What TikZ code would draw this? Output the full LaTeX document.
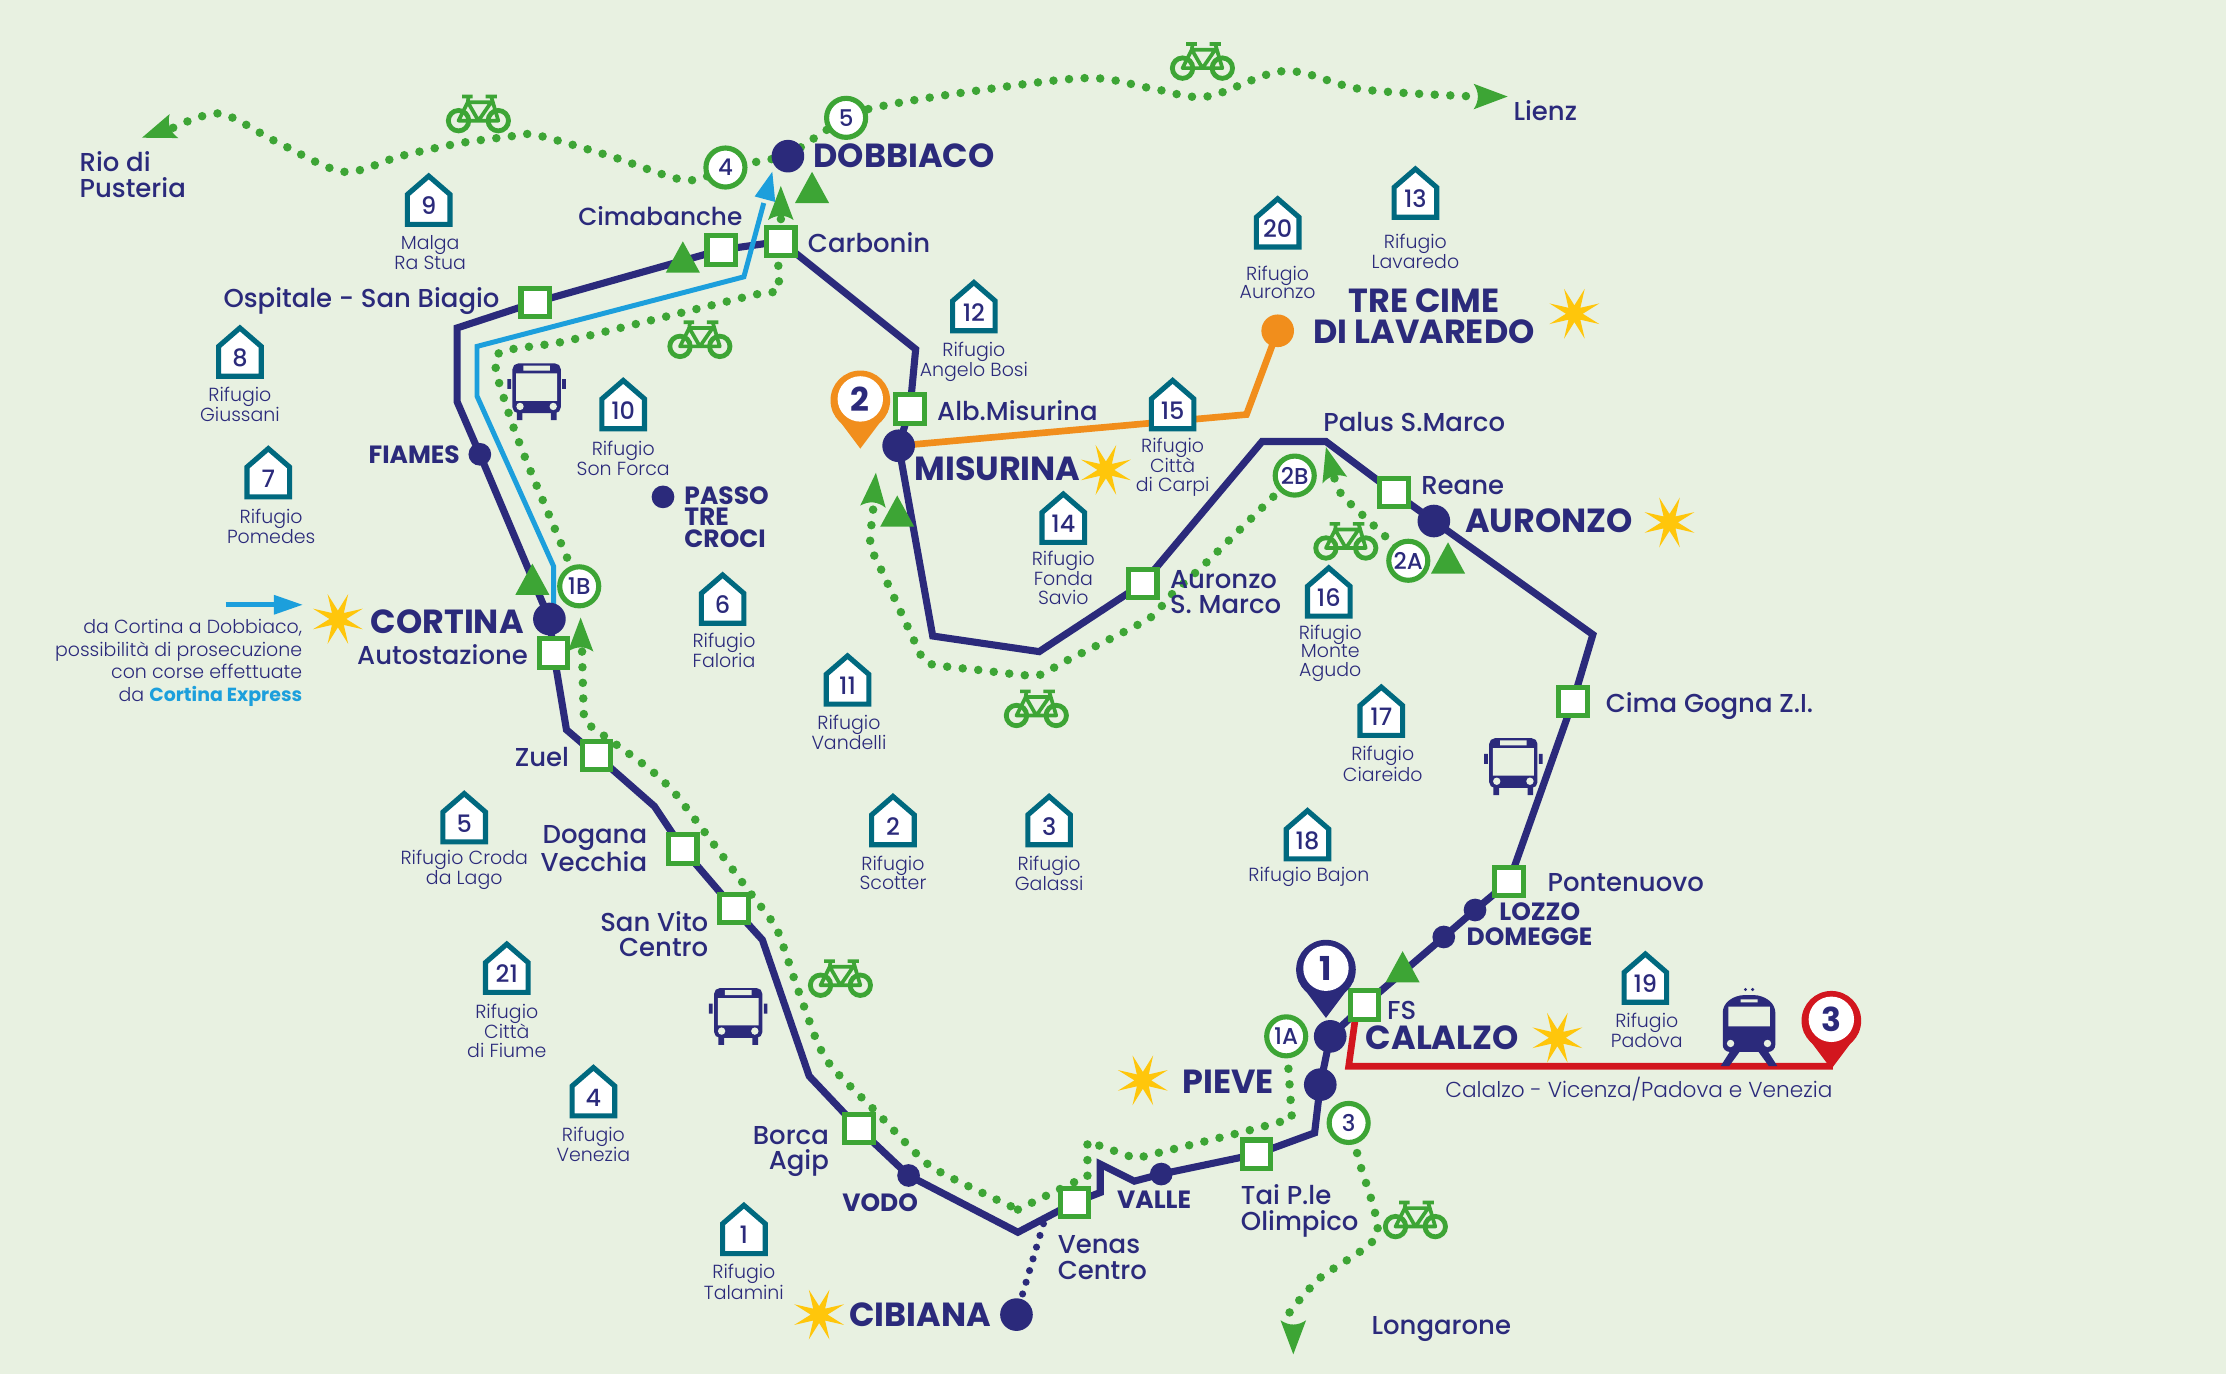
\documentclass[tikz,border=0pt]{standalone}
\usepackage{fontspec}
\setmainfont{Poppins}
\newfontfamily\medf{Poppins Medium}
\newfontfamily\lightf{Poppins Light}
\usetikzlibrary{shapes.geometric}
\definecolor{bgc}{HTML}{E8F1E1}
\definecolor{navyc}{HTML}{2B2A7B}
\definecolor{greenc}{HTML}{3DA535}
\definecolor{tealc}{HTML}{00697F}
\definecolor{bluec}{HTML}{1C9FDC}
\definecolor{orangec}{HTML}{F18E1C}
\definecolor{redc}{HTML}{D2161E}
\definecolor{yelc}{HTML}{FFC60B}
\pgfdeclarelayer{routes}
\pgfsetlayers{routes,main}
\tikzset{
 x=0.05cm,y=-0.05cm,
 navyline/.style={draw=navyc,line width=0.25cm,line join=miter},
 blueline/.style={draw=bluec,line width=0.175cm,line join=miter},
 orangeline/.style={draw=orangec,line width=0.235cm},
 redline/.style={draw=redc,line width=0.235cm},
 gdots/.style={draw=greenc,line width=0.3cm,line cap=round,dash pattern=on 0pt off 0.55cm},
 ndots/.style={draw=navyc,line width=0.25cm,line cap=round,dash pattern=on 0pt off 0.43cm},
 stop/.style={rectangle,draw=greenc,fill=white,line width=0.18cm,minimum size=1cm,inner sep=0},
 bigdot/.style={circle,fill=navyc,minimum size=1.15cm,inner sep=0},
 smalldot/.style={circle,fill=navyc,minimum size=0.8cm,inner sep=0},
 orangedot/.style={circle,fill=orangec,minimum size=1.15cm,inner sep=0},
 ring/.style={circle,draw=greenc,fill=white,line width=0.18cm,minimum size=1.375cm,inner sep=0,text=navyc,font=\medf\fontsize{23}{24}\selectfont},
 sunstar/.style={star,star points=8,star point ratio=3.2,shape border rotate=22.5,fill=yelc,minimum size=1.9cm,inner sep=0},
 lab/.style={text=navyc,inner sep=0,font=\medf\fontsize{26}{25.6}\selectfont},
 blab/.style={text=navyc,inner sep=0,font=\fontsize{33.5}{31}\selectfont\bfseries},
 slab/.style={text=navyc,inner sep=0,font=\fontsize{25}{21.5}\selectfont\bfseries},
 tlab/.style={text=navyc,inner sep=0,font=\lightf\fontsize{19}{18.5}\selectfont,align=center},
 notelab/.style={text=navyc,inner sep=0,font=\lightf\fontsize{19}{22.7}\selectfont,align=right},
 hutnum/.style={text=navyc,inner sep=0,font=\medf\fontsize{24}{24}\selectfont},
 hutline/.style={draw=tealc,fill=white,line width=0.18cm,line join=miter},
 pinnum/.style={text=navyc,inner sep=0,font=\fontsize{33}{33}\selectfont\bfseries},
 pinwhite/.style={circle,fill=white,minimum size=1.6cm,inner sep=0},
 bikeline/.style={draw=greenc,line width=0.13cm},
 wheelline/.style={draw=greenc,line width=0.17cm},
}
\newcommand\mkhut[6]{% num, x, top y, lab x, lab y, text
 \begin{scope}[shift={(#2,#3)}]
  \draw[hutline] (0,2)--(15,15)--(15,36)--(-15,36)--(-15,15)--cycle;
  \node[hutnum] (hut#1) at (0,23) {#1};
 \end{scope}
 \node[tlab] (hutlab#1) at (#4,#5) {#6};
}
\newcommand\mkbike[3]{%
 \begin{scope}[shift={(#2,#3)}]
  \coordinate (#1) at (0,0);
  \draw[wheelline] (-14,5) circle[radius=0.36cm] (14,5) circle[radius=0.36cm];
  \draw[bikeline,line join=round] (-14,5)--(-7.5,-8)--(9,-8)--(0,5)--cycle (-7.5,-8)--(0,5)--(14,5)--(9,-12);
  \draw[bikeline] (-11.5,-12)--(-4,-12) (-7,-12)--(-7.5,-8) (5,-12)--(13,-12);
 \end{scope}
}
\newcommand\mkbus[3]{%
 \begin{scope}[shift={(#2,#3)}]
  \coordinate (#1) at (0,0);
  \fill[navyc,rounded corners=0.2cm] (-17,15) -- (-17,-20) -- (17,-20) -- (17,15) -- cycle;
  \fill[navyc] (-14,14) rectangle (-10,20) (10,14) rectangle (14,20) (-20.6,-9) rectangle (-18,-2) (18,-9) rectangle (20.6,-2);
  \fill[bgc] (-14.4,-13) rectangle (14.4,6.3) (-9.4,-18.5) rectangle (9.4,-15);
  \fill[bgc] (-11.7,10.3) circle[radius=0.13cm] (11.7,10.3) circle[radius=0.13cm];
 \end{scope}
}
\newcommand\mktrain[3]{%
 \begin{scope}[shift={(#2,#3)}]
  \coordinate (#1) at (0,0);
  \fill[navyc,rounded corners=0.25cm] (-18.5,-17) -- (-18.5,16) -- (18.5,16) -- (18.5,-17) -- (9,-24) -- (-9,-24) -- cycle;
  \fill[navyc] (-13,15) -- (-6,15) -- (-14,26) -- (-20,26) -- cycle (13,15) -- (6,15) -- (14,26) -- (20,26) -- cycle;
  \fill[bgc] (-14.6,-16) rectangle (14.6,-2) (-6,-21) rectangle (6,-19);
  \fill[bgc] (-13,10) circle[radius=0.13cm] (13,10) circle[radius=0.13cm];
  \fill[navyc] (-2.5,-28) circle[radius=0.06cm] (2.5,-28) circle[radius=0.06cm];
 \end{scope}
}
\newcommand\mkpin[5]{% name,col,x,y,text
 \begin{scope}[shift={(#3,#4)}]
  \fill[#2] (-19.5,8) -- (0,34) -- (19.5,8) -- cycle;
  \node[circle,fill=#2,minimum size=2.1cm,inner sep=0] (#1) at (0,0) {};
  \node[pinwhite] (#1w) at (0,-1) {};
  \node[pinnum] (#1n) at (0,-1) {#5};
 \end{scope}
}
\newcommand\ghead[3]{% tip x,y, rotation
 \begin{scope}[shift={(#1,#2)},rotate=#3]
  \fill[greenc] (0,0) -- (-24,-9) .. controls (-20,-3) and (-20,3) .. (-24,9) -- cycle;
 \end{scope}
}
\newcommand\gtri[2]{% centre x, tip y
 \fill[greenc] (#1,#2) -- ++(12,22) -- ++(-24,0) -- cycle;
}
\begin{document}
\begin{tikzpicture}
\useasboundingbox (0,0) rectangle (1568,967.8);

% stops
\node[stop] (ospitale) at (377,213) {};
\node[stop] (cimabanche) at (508,176) {};
\node[stop] (carbonin) at (550,170) {};
\node[stop] (albmis) at (641,288) {};
\node[stop] (reane) at (982,347) {};
\node[stop] (auronzosm) at (805,411) {};
\node[stop] (autostaz) at (390,460) {};
\node[stop] (zuel) at (420,532) {};
\node[stop] (dogana) at (481,598) {};
\node[stop] (sanvito) at (517,640) {};
\node[stop] (borca) at (605,795) {};
\node[stop] (venas) at (757,847) {};
\node[stop] (tai) at (885,813) {};
\node[stop] (fs) at (961,708) {};
\node[stop] (ponte) at (1063,621) {};
\node[stop] (gogna) at (1108,494) {};
% dots
\node[bigdot] (dobbiaco) at (555,110) {};
\node[bigdot] (misurina) at (633,314) {};
\node[bigdot] (auronzo) at (1010,367) {};
\node[bigdot] (cortina) at (387,436) {};
\node[bigdot] (calalzo) at (937,730) {};
\node[bigdot] (pieve) at (930,764) {};
\node[bigdot] (cibiana) at (716,926) {};
\node[smalldot] (fiames) at (338,320) {};
\node[smalldot] (vodo) at (640,828) {};
\node[smalldot] (valle) at (818,827) {};
\node[smalldot] (domegge) at (1017,660) {};
\node[smalldot] (lozzo) at (1039,641) {};
\node[smalldot] (passo) at (467,350) {};
\node[orangedot] (trecime) at (900,233) {};
% rings
\node[ring] (r4) at (511,118) {4};
\node[ring] (r5) at (596,83) {5};
\node[ring] (r1B) at (408,413) {1B};
\node[ring] (r1A) at (906,730) {1A};
\node[ring] (r3) at (950,791) {3};
\node[ring] (r2B) at (912,335) {2B};
\node[ring] (r2A) at (992,395) {2A};
\coordinate (venasfoot) at (735,862);

\begin{pgfonlayer}{routes}
\fill[bgc] (0,0) rectangle (1568,967.8);
\draw[navyline] (carbonin.center) -- (cimabanche.center) -- (ospitale.center) -- (322,231) -- (322,283) -- (fiames.center) -- (cortina.center) -- (autostaz.center) -- (399,514) -- (zuel.center) -- (461,568) -- (dogana.center) -- (sanvito.center) -- (537,662) -- (570,758) -- (borca.center) -- (vodo.center) -- (717,868) -- (venas.center) -- (775,840) -- (775,820) -- (799,832) -- (valle.center) -- (tai.center) -- (926,798) -- (pieve.center) -- (calalzo.center) -- (fs.center) -- (domegge.center) -- (lozzo.center) -- (ponte.center) -- (gogna.center) -- (1122,447) -- (auronzo.center) -- (reane.center) -- (934,311) -- (889,311) -- (auronzosm.center) -- (732,459) -- (657,448) -- (misurina.center) -- (albmis.center) -- (645,246) -- (carbonin.center);
\draw[orangeline] (misurina.center) -- (878,292) -- (trecime.center);
\draw[redline] (955,715) -- (950,751) -- (1291,751);
\draw[ndots] (venasfoot) -- (cibiana.center);
\draw[blueline] (cortina.center) ++(3,-6) -- (390,399) -- (336,279) -- (336,244) -- (524,195) -- (538,143);
\draw[blueline] (159,426) -- (195,426);
% cycling routes
\draw[gdots] plot[smooth,tension=.5] coordinates {(122,90) (155,80) (195,100) (242,121) (282,110) (323,101) (357,96.5) (377,95) (430,110) (483,127) (r4.center)};
\draw[gdots] (r4.center) -- (dobbiaco.center);
\draw[gdots] plot[smooth,tension=.55] coordinates {(dobbiaco.center) (r5.center) (620,75) (680,65) (765,55) (810,62) (850,68) (905,50) (960,63) (1040,68)};
\draw[gdots] plot[smooth,tension=.4] coordinates {(r1B.center) (373,330) (358,290) (350,250) (400,240) (530,208) (548,205) (548,190) (carbonin.center) (550,150)};
\draw[gdots] plot[smooth,tension=.3] coordinates {(410,459) (411,497) (412,508) (421,515) (439,528) (458,542) (474,557) (494,583) (527,627) (547,654) (561,694) (576,735) (587,753) (618,784) (656,822) (717,852)};
\draw[gdots] plot coordinates {(717,852) (756,833) (766,829) (766,804) (800,816) (877,797) (910,788) (r1A.center)};
\draw[gdots] plot[smooth,tension=.3] coordinates {(615,359) (613,384) (622,404) (642,447) (653,467) (690,472) (730,476) (750,466) (809,436) (825,419) (850,396) (r2B.center)};
\draw[gdots] plot coordinates {(940,337) (945,349) (976,378) (r2A.center)};
\draw[gdots] plot[smooth,tension=.4] coordinates {(r3.center) (958,820) (970,870) (930,900) (908,925) (910,932)};
\end{pgfonlayer}

% arrow heads
\ghead{100}{97}{200}
\ghead{1062}{68}{0}
\ghead{550}{131}{90}
\ghead{409}{435}{90}
\ghead{617}{333}{85}
\ghead{934}{315}{105}
\ghead{911}{954}{-90}
\begin{scope}[shift={(544,121)},rotate=75]
 \fill[bluec] (0,0) -- (-20,-7.5) -- (-20,7.5) -- cycle;
\end{scope}
\fill[bluec] (213,426) -- (193,419) -- (193,433) -- cycle;
% triangles
\gtri{481}{170}
\gtri{572}{121}
\gtri{375}{397}
\gtri{632}{349}
\gtri{1020}{382}
\gtri{988}{670}

% icons
\mkbike{bikea}{337}{80}
\mkbike{bikeb}{847}{43}
\mkbike{bikec}{493}{239}
\mkbike{biked}{948}{381}
\mkbike{bikee}{730}{499}
\mkbike{bikef}{592}{689}
\mkbike{bikeg}{997}{859}
\mkbus{busa}{378}{276}
\mkbus{busb}{1066}{540}
\mkbus{busc}{520}{716}
\mktrain{traina}{1232}{725}

% stars
\node[sunstar] (s1) at (238,436) {};
\node[sunstar] (s2) at (779,331) {};
\node[sunstar] (s3) at (1109,221) {};
\node[sunstar] (s4) at (1176,368) {};
\node[sunstar] (s5) at (805,761) {};
\node[sunstar] (s6) at (1097,731) {};
\node[sunstar] (s7) at (577,926) {};

% pins
\mkpin{pina}{navyc}{934}{683}{1}
\mkpin{pinb}{orangec}{606}{282}{2}
\mkpin{pinc}{redc}{1290}{719}{3}

% huts
\mkhut{9}{302}{122}{303}{178}{Malga\\Ra Stua}
\mkhut{8}{169}{229}{169}{285}{Rifugio\\Giussani}
\mkhut{7}{189}{314}{191}{371}{Rifugio\\Pomedes}
\mkhut{10}{439}{266}{439}{323}{Rifugio\\Son Forca}
\mkhut{6}{509}{403}{510}{458}{Rifugio\\Faloria}
\mkhut{11}{597}{460}{598}{516}{Rifugio\\Vandelli}
\mkhut{5}{327}{557}{327}{613}{Rifugio Croda\\da Lago}
\mkhut{2}{629}{559}{629}{615}{Rifugio\\Scotter}
\mkhut{3}{739}{559}{739}{615}{Rifugio\\Galassi}
\mkhut{21}{357}{663}{357}{726}{Rifugio\\Città\\di Fiume}
\mkhut{4}{418}{750}{418}{806}{Rifugio\\Venezia}
\mkhut{1}{524}{847}{524}{903}{Rifugio\\Talamini}
\mkhut{12}{686}{197}{686}{255}{Rifugio\\Angelo Bosi}
\mkhut{20}{900}{138}{900}{199}{Rifugio\\Auronzo}
\mkhut{13}{997}{117}{997}{177}{Rifugio\\Lavaredo}
\mkhut{15}{826}{266}{826}{329}{Rifugio\\Città\\di Carpi}
\mkhut{14}{749}{346}{749}{407}{Rifugio\\Fonda\\Savio}
\mkhut{16}{936}{398}{937}{460}{Rifugio\\Monte\\Agudo}
\mkhut{17}{973}{482}{974}{538}{Rifugio\\Ciareido}
\mkhut{18}{921}{569}{922}{618}{Rifugio Bajon}
\mkhut{19}{1159}{670}{1160}{726}{Rifugio\\Padova}

% labels
\node[blab,anchor=west] (tdobbiaco) at (573,110) {DOBBIACO};
\node[lab,anchor=west] (tcarbonin) at (569,171) {Carbonin};
\node[lab,anchor=east,font=\medf\fontsize{24.8}{25.6}\selectfont] (tcima) at (523,152) {Cimabanche};
\node[lab,anchor=east] (tospitale) at (352,212) {Ospitale - San Biagio};
\node[slab,anchor=east] (tfiames) at (324,320) {FIAMES};
\node[blab,anchor=east] (tcortina) at (369,438) {CORTINA};
\node[lab,anchor=east] (tauto) at (372,461) {Autostazione};
\node[lab,anchor=east] (tzuel) at (401,533) {Zuel};
\node[lab,anchor=east,align=right] (tdogana) at (456,598) {Dogana\\Vecchia};
\node[lab,anchor=east,align=right] (tsanvito) at (499,658) {San Vito\\Centro};
\node[lab,anchor=east,align=right] (tborca) at (584,811) {Borca\\Agip};
\node[slab] (tvodo) at (620,847) {VODO};
\node[slab] (tvalle) at (813,845) {VALLE};
\node[lab,anchor=west,align=left] (tvenas) at (745,886) {Venas\\Centro};
\node[lab,anchor=west,align=left] (ttai) at (874,853) {Tai P.le\\Olimpico};
\node[blab,anchor=west] (tpieve) at (833,762) {PIEVE};
\node[blab,anchor=west] (tcibiana) at (598,926) {CIBIANA};
\node[lab,anchor=west] (tlong) at (966,936) {Longarone};
\node[lab,anchor=west] (tfs) at (977,712) {FS};
\node[blab,anchor=west] (tcalalzo) at (962,731) {CALALZO};
\node[tlab,anchor=west,font=\lightf\fontsize{21.7}{22}\selectfont] (tlinea) at (1018,767) {Calalzo - Vicenza/Padova e Venezia};
\node[slab,anchor=west] (tlozzo) at (1056,642) {LOZZO};
\node[slab,anchor=west] (tdomegge) at (1033,660) {DOMEGGE};
\node[lab,anchor=west] (tponte) at (1090,622) {Pontenuovo};
\node[lab,anchor=west] (tgogna) at (1131,497) {Cima Gogna Z.I.};
\node[lab,anchor=west,align=left] (tausm) at (824,417) {Auronzo\\S. Marco};
\node[blab,anchor=west] (tauronzo) at (1032,367) {AURONZO};
\node[lab,anchor=west] (treane) at (1001,342) {Reane};
\node[lab,anchor=west] (tpalus) at (932,297) {Palus S.Marco};
\node[lab,anchor=west] (talb) at (660,289) {Alb.Misurina};
\node[blab,anchor=west] (tmis) at (644,330) {MISURINA};
\node[blab,align=center] (ttre) at (1003,223) {TRE CIME\\DI LAVAREDO};
\node[slab,anchor=west,align=left] (tpasso) at (482,364) {PASSO\\TRE\\CROCI};
\node[lab,anchor=west,align=left] (trio) at (56,123) {Rio di\\Pusteria};
\node[lab,anchor=west] (tlienz) at (1066,78) {Lienz};
\node[notelab,anchor=east] (tnote) at (213,467) {da Cortina a Dobbiaco,\\possibilità di prosecuzione\\con corse effettuate\\da {\color{bluec}\fontspec{Poppins}\bfseries Cortina Express}};
\end{tikzpicture}
\end{document}
